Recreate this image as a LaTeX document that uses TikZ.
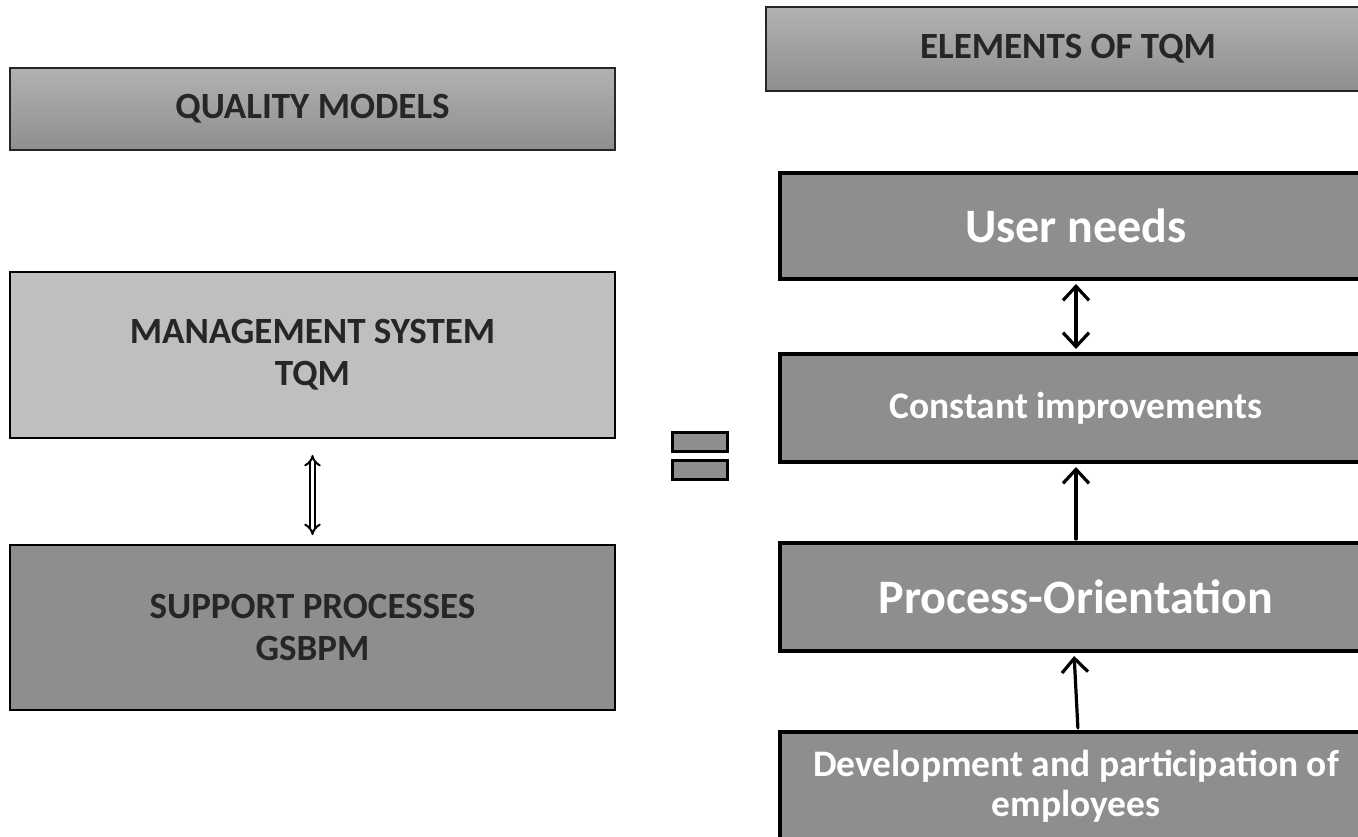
\documentclass[tikz,border=0pt]{standalone}
\usepackage{fontspec}
\setmainfont{Carlito}
\usetikzlibrary{arrows.meta}
\definecolor{qtop}{RGB}{178,178,178}
\definecolor{qbot}{RGB}{142,142,142}
\definecolor{mgmt}{RGB}{191,191,191}
\definecolor{boxgray}{RGB}{142,142,142}
\definecolor{txtdark}{RGB}{38,38,38}
\tikzset{
  headbox/.style={draw=txtdark, line width=1.5pt, top color=qtop, bottom color=qbot, minimum height=#1, inner sep=0pt, text=txtdark, font=\bfseries\fontsize{37}{42}\selectfont},
  leftbox/.style={draw=black, line width=2pt, minimum width=605pt, minimum height=#1, align=center, inner sep=0pt, text=txtdark, font=\bfseries\fontsize{37}{42}\selectfont},
  rightbox/.style={draw=black, line width=4pt, fill=boxgray, minimum width=592pt, minimum height=#1, align=center, inner sep=0pt, text=white},
  eqbar/.style={draw=black, line width=3pt, fill=boxgray, minimum width=55pt, minimum height=19pt, inner sep=0pt},
  barb/.style={line width=3.2pt, line cap=round},
  barbtip/.tip={Straight Barb[length=14pt,width=26pt,line width=3.2pt]},
  bigtxt/.style={font=\bfseries\fontsize{48}{54}\selectfont},
  midtxt/.style={font=\bfseries\fontsize{37.5}{40}\selectfont},
}
\begin{document}
\begin{tikzpicture}[x=1pt,y=-1pt]
\useasboundingbox (0,0) rectangle (1358,836);
% left column
\node[headbox=82pt, minimum width=605pt] (qm) at (312.5,109) {QUALITY MODELS};
\node[leftbox=166pt, fill=mgmt] (ms) at (312.5,355) {MANAGEMENT SYSTEM\\TQM};
\node[leftbox=165pt, fill=boxgray] (sp) at (312.5,627.5) {SUPPORT PROCESSES\\GSBPM};
\draw[double distance=3.5pt, line width=2pt, {Implies[length=9pt]}-{Implies[length=9pt]}, shorten <=16pt, shorten >=9pt] (ms.south) -- (sp.north);
% equals sign
\node[eqbar] (eq1) at (699.5,441.5) {};
\node[eqbar] (eq2) at (699.5,469.5) {};
% right column
\node[headbox=84pt, minimum width=604pt] (el) at (1068,49) {ELEMENTS OF TQM};
\node[rightbox=106pt, bigtxt] (un) at (1076,226) {User needs};
\node[rightbox=108pt, midtxt] (ci) at (1076,408) {Constant improvements};
\node[rightbox=108pt, bigtxt] (po) at (1076,597) {Process-Orientation};
\node[rightbox=108pt, midtxt] (dp) at (1076,786) {Development and participation of\\employees};
\draw[barb, barbtip-barbtip, shorten <=3pt, shorten >=3pt] (un.south) -- (ci.north);
\draw[barb, -barbtip, shorten <=2pt, shorten >=3pt] (ci.south |- po.north) -- (ci.south);
\draw[barb, -barbtip, shorten <=2pt, shorten >=3pt] ([xshift=2pt]dp.north) -- ([xshift=-2pt]po.south);
\end{tikzpicture}
\end{document}
